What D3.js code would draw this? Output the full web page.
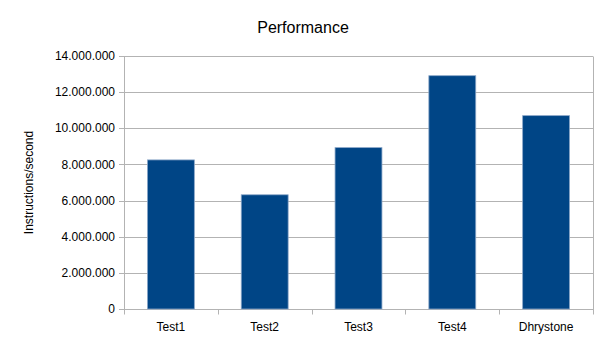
<!DOCTYPE html>
<html>
<head>
<meta charset="utf-8">
<script src="https://cdn.jsdelivr.net/npm/d3@7"></script>
<style>
  body { margin: 0; background: #fff; }
  text { font-family: "Liberation Sans", Arial, sans-serif; fill: #000; }
</style>
</head>
<body>
<script>
const categories = ["Test1", "Test2", "Test3", "Test4", "Dhrystone"];
const values = [8250000, 6320000, 8930000, 12910000, 10700000];
const yTicks = [0, 2000000, 4000000, 6000000, 8000000, 10000000, 12000000, 14000000];

const width = 605, height = 340;
const margin = { top: 56, right: 12, bottom: 31, left: 124 };

const svg = d3.select("body").append("svg")
  .attr("width", width)
  .attr("height", height);

const x = d3.scaleBand()
  .domain(categories)
  .range([margin.left, width - margin.right])
  .paddingInner(0.5)
  .paddingOuter(0.25);

const y = d3.scaleLinear()
  .domain([0, 14000000])
  .range([height - margin.bottom, margin.top]);

// thousands separated with dots
const fmt = (v) => d3.format(",")(v).replace(/,/g, ".");

const gridColor = "#b3b3b3";

// gridlines + y tick marks
svg.append("g")
  .selectAll("line")
  .data(yTicks)
  .enter()
  .append("line")
  .attr("x1", margin.left - 5)
  .attr("x2", width - margin.right)
  .attr("y1", (d) => Math.round(y(d)) + 0.5)
  .attr("y2", (d) => Math.round(y(d)) + 0.5)
  .attr("stroke", gridColor)
  .attr("stroke-width", 1);

svg.append("g")
  .selectAll("text")
  .data(yTicks)
  .enter()
  .append("text")
  .attr("x", margin.left - 9)
  .attr("y", (d) => y(d))
  .attr("dy", "0.35em")
  .attr("text-anchor", "end")
  .style("font-size", "12px")
  .text(fmt);

// bars
svg.append("g")
  .selectAll("rect")
  .data(values)
  .enter()
  .append("rect")
  .attr("x", (d, i) => x(categories[i]))
  .attr("y", (d) => y(d))
  .attr("width", x.bandwidth())
  .attr("height", (d) => y(0) - y(d))
  .attr("fill", "#004586")
  .attr("stroke", "#8aa6c8")
  .attr("stroke-width", 0.8);

// left axis line and right border
const y0 = Math.round(y(0)) + 0.5;
svg.append("line")
  .attr("x1", margin.left + 0.5).attr("x2", margin.left + 0.5)
  .attr("y1", margin.top).attr("y2", y0 + 5)
  .attr("stroke", gridColor);
svg.append("line")
  .attr("x1", width - margin.right + 0.5).attr("x2", width - margin.right + 0.5)
  .attr("y1", Math.round(y(14000000)) + 0.5).attr("y2", y0 + 5)
  .attr("stroke", gridColor);

// x tick marks at category boundaries
const bounds = categories.map((c) => x(c) - x.step() * x.paddingInner() / 2).slice(1);
svg.append("g")
  .selectAll("line")
  .data(bounds)
  .enter()
  .append("line")
  .attr("x1", (d) => Math.round(d) + 0.5)
  .attr("x2", (d) => Math.round(d) + 0.5)
  .attr("y1", y0)
  .attr("y2", y0 + 5)
  .attr("stroke", gridColor);

// x labels
svg.append("g")
  .selectAll("text")
  .data(categories)
  .enter()
  .append("text")
  .attr("x", (d) => x(d) + x.bandwidth() / 2)
  .attr("y", y0 + 21)
  .attr("text-anchor", "middle")
  .style("font-size", "12px")
  .text((d) => d);

// title
svg.append("text")
  .attr("x", 303)
  .attr("y", 33)
  .attr("text-anchor", "middle")
  .style("font-size", "16px")
  .text("Performance");

// y axis title
svg.append("text")
  .attr("transform", `translate(33, ${(margin.top + y(0)) / 2}) rotate(-90)`)
  .attr("text-anchor", "middle")
  .style("font-size", "12px")
  .text("Instructions/second");
</script>
</body>
</html>
